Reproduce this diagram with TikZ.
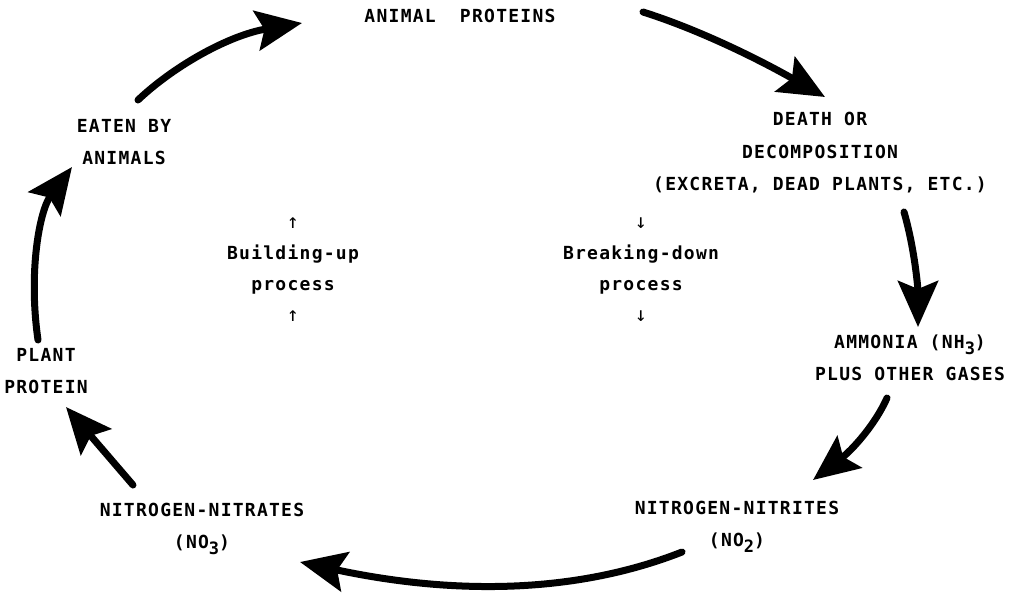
\documentclass[tikz,border=0pt]{standalone}
\usepackage{fontspec}
\setmainfont{DejaVu Sans Mono}[LetterSpace=7]
\usetikzlibrary{arrows.meta}
\newcommand{\subs}[1]{\raisebox{-6pt}{\fontsize{17}{17}\selectfont #1}}
\newcommand{\uar}{{\mdseries\fontsize{20}{20}\selectfont ↑}}
\newcommand{\dar}{{\mdseries\fontsize{20}{20}\selectfont ↓}}
\begin{document}
\begin{tikzpicture}[x=1pt,y=-1pt,
  lbl/.style={font=\fontsize{18}{32.5}\selectfont\bfseries, align=center, inner sep=0pt},
  mid/.style={font=\fontsize{18}{31}\selectfont\bfseries, align=center, inner sep=0pt},
  flow/.style={line width=7pt, line cap=round, -{Stealth[length=46pt,width=40pt,inset=8pt]}}]
\useasboundingbox[fill=white] (0,0) rectangle (1011,598);

\node[lbl] (ap) at (460,16) {ANIMAL\ \ PROTEINS};
\node[lbl] (death) at (820,153) {DEATH OR\\DECOMPOSITION\\(EXCRETA, DEAD PLANTS, ETC.)};
\node[lbl] (amm) at (910,358) {AMMONIA (NH\subs{3})\\PLUS OTHER GASES};
\node[lbl] (nitrites) at (737,527) {NITROGEN-NITRITES\\(NO\subs{2})};
\node[lbl] (nitrates) at (202,529) {NITROGEN-NITRATES\\(NO\subs{3})};
\node[lbl] (plant) at (46,371) {PLANT\\PROTEIN};
\node[lbl] (eaten) at (124,142) {EATEN BY\\ANIMALS};
\node[mid] (build) at (293,270) {\uar\\Building-up\\process\\\uar};
\node[mid] (brk) at (641,270) {\dar\\Breaking-down\\process\\\dar};

\coordinate (a1s) at (643,12);  \coordinate (a1e) at (825,97);
\coordinate (a2s) at (904,212); \coordinate (a2e) at (918,327);
\coordinate (a3s) at (887,398); \coordinate (a3e) at (813,480);
\coordinate (a4s) at (682,552); \coordinate (a4e) at (300,562);
\coordinate (a5s) at (133,485); \coordinate (a5e) at (66,407);
\coordinate (a6s) at (38,340);  \coordinate (a6e) at (72,167);
\coordinate (a7s) at (138,100); \coordinate (a7e) at (302,23);

\draw[flow] (a1s) .. controls (700,30) and (760,60) .. (a1e);
\draw[flow] (a2s) .. controls (915,250) and (918,290) .. (a2e);
\draw[flow] (a3s) .. controls (875,425) and (852,450) .. (a3e);
\draw[flow] (a4s) .. controls (560,600) and (430,590) .. (a4e);
\draw[flow] (a5s) -- (a5e);
\draw[flow] (a6s) .. controls (28,270) and (40,210) .. (a6e);
\draw[flow] (a7s) .. controls (175,65) and (230,35) .. (a7e);
\end{tikzpicture}
\end{document}
